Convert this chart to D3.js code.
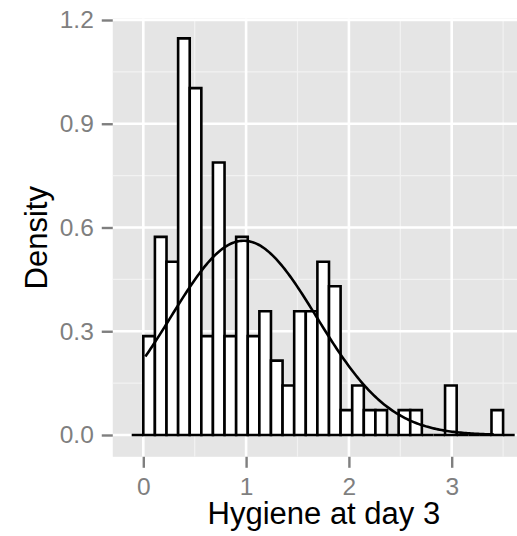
<!DOCTYPE html>
<html><head><meta charset="utf-8">
<script src="https://cdn.jsdelivr.net/npm/d3@7"></script>
<style>html,body{margin:0;padding:0;background:#fff;}svg{display:block;}</style>
</head><body>
<svg id="chart" width="517" height="536"></svg>
<script>
// Histogram bins (density per bin), starting at binStart with width binWidth
const binStart = -0.1129;
const binWidth = 0.1129;
const binDensity = [0, 0.286, 0.573, 0.501, 1.147, 1.003, 0.286, 0.788, 0.286, 0.573,
  0.286, 0.358, 0.215, 0.143, 0.358, 0.358, 0.501, 0.430, 0.072, 0.143,
  0.072, 0.072, 0, 0.072, 0.072, 0, 0, 0.143, 0, 0, 0, 0.072, 0];
// Normal curve parameters
const curveMean = 0.9765;
const curveSd = 0.7102;
const curveFrom = 0.02;
const curveTo = 3.41;
const xTicks = [0, 1, 2, 3];
const xMinor = [0.5, 1.5, 2.5, 3.5];
const yTicks = [0, 0.3, 0.6, 0.9, 1.2];
const yMinor = [0.15, 0.45, 0.75, 1.05];
const xTitle = "Hygiene at day 3";
const yTitle = "Density";

const svg = d3.select("#chart");
const x = d3.scaleLinear().domain([0, 3]).range([143.3, 451.7]);
const y = d3.scaleLinear().domain([0, 1.2]).range([435, 20]);
const xLo = -0.297, xHi = 3.81, yLo = -0.063, yHi = 1.204;

// panel
svg.append("rect").attr("x", x(xLo)).attr("y", y(yHi))
  .attr("width", x(xHi) - x(xLo)).attr("height", y(yLo) - y(yHi)).attr("fill", "#e5e5e5");

const grid = svg.append("g");
yMinor.forEach(v => grid.append("line").attr("x1", x(xLo)).attr("x2", x(xHi)).attr("y1", y(v)).attr("y2", y(v)).attr("stroke", "#f2f2f2").attr("stroke-width", 1.2));
xMinor.forEach(v => grid.append("line").attr("y1", y(yLo)).attr("y2", y(yHi)).attr("x1", x(v)).attr("x2", x(v)).attr("stroke", "#f2f2f2").attr("stroke-width", 1.2));
yTicks.forEach(v => grid.append("line").attr("x1", x(xLo)).attr("x2", x(xHi)).attr("y1", y(v)).attr("y2", y(v)).attr("stroke", "#ffffff").attr("stroke-width", 2.6));
xTicks.forEach(v => grid.append("line").attr("y1", y(yLo)).attr("y2", y(yHi)).attr("x1", x(v)).attr("x2", x(v)).attr("stroke", "#ffffff").attr("stroke-width", 2.6));

// bars (drawn as closed paths so empty bins still show their outline on the baseline)
svg.append("g").selectAll("path").data(binDensity).join("path")
  .attr("d", (d, i) => {
    const x0 = x(binStart + i * binWidth), x1 = x(binStart + (i + 1) * binWidth);
    const y0 = y(0), y1 = y(d);
    return `M${x0},${y0}V${y1}H${x1}V${y0}Z`;
  })
  .attr("fill", "#ffffff").attr("stroke", "#000").attr("stroke-width", 2.6)
  .attr("stroke-linejoin", "miter");

// normal curve
const pts = d3.range(0, 201).map(i => {
  const xv = curveFrom + (curveTo - curveFrom) * i / 200;
  const z = (xv - curveMean) / curveSd;
  return [xv, Math.exp(-0.5 * z * z) / (curveSd * Math.sqrt(2 * Math.PI))];
});
svg.append("path").datum(pts)
  .attr("d", d3.line().x(d => x(d[0])).y(d => y(d[1])))
  .attr("fill", "none").attr("stroke", "#000").attr("stroke-width", 2.6);

// axes
const font = "'Liberation Sans', Arial, Helvetica, sans-serif";
const yAxis = svg.append("g").attr("transform", `translate(${x(xLo)},0)`)
  .call(d3.axisLeft(y).tickValues(yTicks).tickFormat(d3.format(".1f")).tickSize(11).tickPadding(8));
const xAxis = svg.append("g").attr("transform", `translate(0,${y(yLo)})`)
  .call(d3.axisBottom(x).tickValues(xTicks).tickFormat(d3.format("d")).tickSize(11).tickPadding(10));
[yAxis, xAxis].forEach(a => {
  a.select(".domain").remove();
  a.selectAll(".tick line").attr("stroke", "#7f7f7f").attr("stroke-width", 2.4);
  a.selectAll(".tick text").attr("fill", "#7f7f7f").style("font-family", font).style("font-size", "24.5px");
});

svg.append("text").attr("x", (x(xLo) + x(xHi)) / 2).attr("y", 524)
  .attr("text-anchor", "middle").style("font-family", font).style("font-size", "31px").attr("fill", "#000").text(xTitle);
svg.append("text").attr("transform", `translate(47,${(y(yLo) + y(yHi)) / 2}) rotate(-90)`)
  .attr("text-anchor", "middle").style("font-family", font).style("font-size", "31px").attr("fill", "#000").text(yTitle);
</script>
</body></html>
